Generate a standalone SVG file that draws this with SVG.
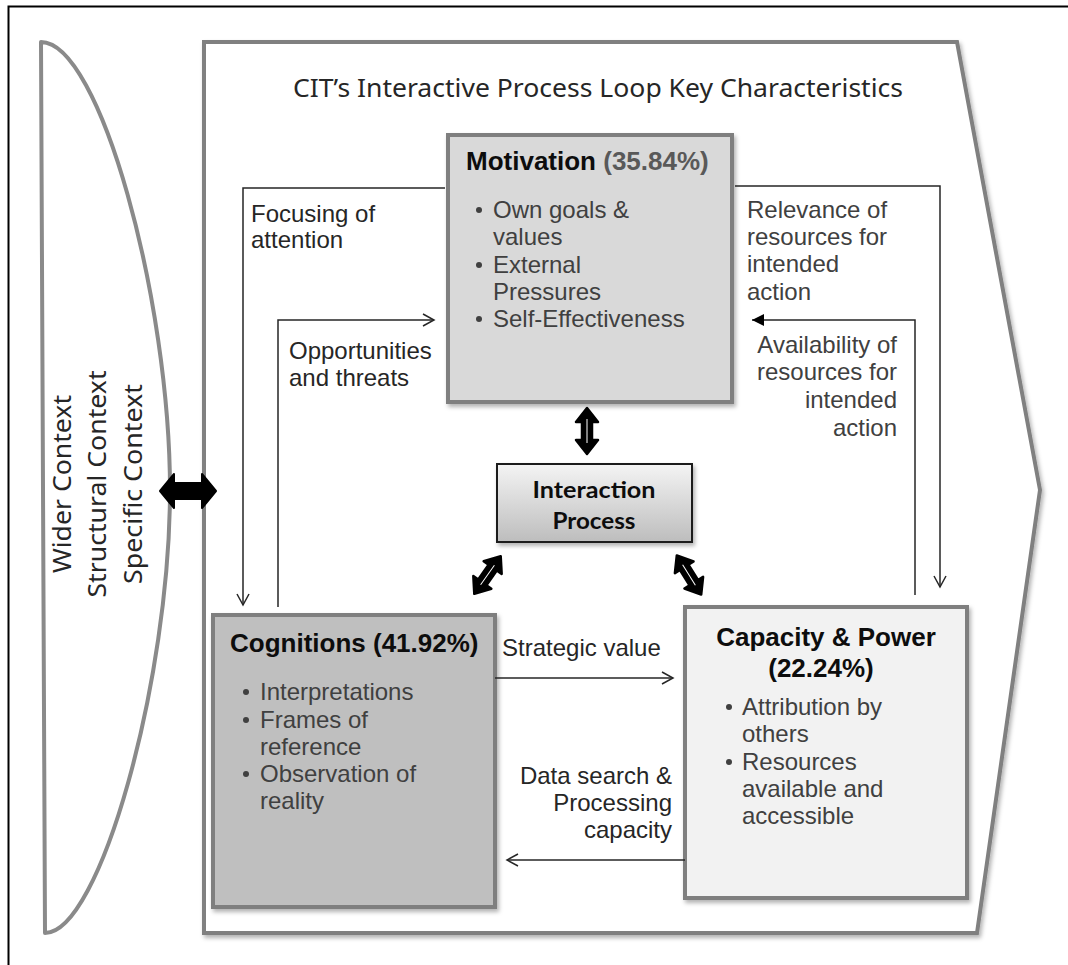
<svg xmlns="http://www.w3.org/2000/svg" width="1068" height="965" viewBox="0 0 1068 965">
<style>
.lbl{font-family:"Liberation Sans",Arial,sans-serif;font-size:24px;fill:#262626}
.lblg{font-family:"Liberation Sans",Arial,sans-serif;font-size:24px;fill:#404040}
.body{font-family:"Liberation Sans",Arial,sans-serif;font-size:24px;fill:#404040}
.ttl{font-family:"Liberation Sans",Arial,sans-serif;font-size:26px;font-weight:bold;fill:#0d0d0d}
.seg{font-family:"Noto Sans","Open Sans",sans-serif;font-size:26px;fill:#262626}
.box{stroke:#7f7f7f;stroke-width:4}
.conn{fill:none;stroke:#262626;stroke-width:1.5}
.ip{font-family:Lato,sans-serif;font-weight:bold;font-size:22px;fill:#0d0d0d}
</style>
<defs>
<marker id="open" markerUnits="userSpaceOnUse" markerWidth="16" markerHeight="16" refX="12" refY="7" orient="auto">
<path d="M1,1 L12,7 L1,13" fill="none" stroke="#262626" stroke-width="1.5"/>
</marker>
<marker id="fill" markerUnits="userSpaceOnUse" markerWidth="16" markerHeight="16" refX="12" refY="6" orient="auto">
<path d="M0,0 L12,6 L0,12 z" fill="#000"/>
</marker>
<linearGradient id="ipg" x1="0" y1="0" x2="0" y2="1">
<stop offset="0" stop-color="#f4f4f4"/>
<stop offset="1" stop-color="#bdbdbd"/>
</linearGradient>
<filter id="sh" x="-5%" y="-5%" width="115%" height="115%">
<feDropShadow dx="2" dy="3" stdDeviation="2" flood-color="#000" flood-opacity="0.3"/>
</filter>
<g id="dbl">
<path d="M0,-23 L11,-9 L5,-9 L5,9 L11,9 L0,23 L-11,9 L-5,9 L-5,-9 L-11,-9 Z" fill="#000" stroke="#000" stroke-width="2.5" stroke-linejoin="round"/>
<path d="M0,-12 L0,12" stroke="#fff" stroke-width="1"/>
</g>
</defs>
<rect width="1068" height="965" fill="#fff"/>
<path d="M8.5,980 V6.5 H1080" fill="none" stroke="#000" stroke-width="2"/>

<g id="context">
<path d="M41,42 C100,42 170,300 170,490 C170,680 100,933 45,933 Z" fill="#fff" stroke="#8a8a8a" stroke-width="4" stroke-linejoin="round"/>
<text class="seg" transform="translate(71,484) rotate(-90)" text-anchor="middle" textLength="178" lengthAdjust="spacingAndGlyphs">Wider Context</text>
<text class="seg" transform="translate(106,484) rotate(-90)" text-anchor="middle" textLength="227" lengthAdjust="spacingAndGlyphs">Structural Context</text>
<text class="seg" transform="translate(142,484) rotate(-90)" text-anchor="middle" textLength="200" lengthAdjust="spacingAndGlyphs">Specific Context</text>
</g>

<g id="frame">
<path d="M204,42 H957 L1040,490 L977,933 H204 Z" fill="#fff" stroke="#808080" stroke-width="4" stroke-linejoin="miter" filter="url(#sh)"/>
<text class="seg" x="293" y="97" textLength="610" lengthAdjust="spacingAndGlyphs">CIT’s Interactive Process Loop Key Characteristics</text>
</g>

<g id="context-arrow">
<path d="M160,491 L174,474 L174,483 L202,483 L202,474 L216,491 L202,508 L202,499 L174,499 L174,508 Z" fill="#000" stroke="#000" stroke-width="2" stroke-linejoin="round"/>
</g>

<g id="motivation">
<rect class="box" x="448" y="135" width="284" height="267" fill="#d9d9d9" filter="url(#sh)"/>
<text class="ttl" x="466" y="170">Motivation <tspan fill="#595959">(35.84%)</tspan></text>
<circle cx="479" cy="210" r="3" fill="#404040"/>
<text class="body" x="493" y="218">Own goals &amp;</text>
<text class="body" x="493" y="245">values</text>
<circle cx="479" cy="265" r="3" fill="#404040"/>
<text class="body" x="493" y="273">External</text>
<text class="body" x="493" y="300">Pressures</text>
<circle cx="479" cy="319" r="3" fill="#404040"/>
<text class="body" x="493" y="327">Self-Effectiveness</text>
</g>

<g id="interaction">
<rect x="497" y="464" width="195" height="78" fill="url(#ipg)" stroke="#1a1a1a" stroke-width="2" filter="url(#sh)"/>
<text class="ip" x="594" y="498" text-anchor="middle" textLength="123" lengthAdjust="spacingAndGlyphs">Interaction</text>
<text class="ip" x="594" y="529" text-anchor="middle" textLength="83" lengthAdjust="spacingAndGlyphs">Process</text>
</g>

<g id="cognitions">
<rect class="box" x="213" y="615" width="282" height="292" fill="#bfbfbf" filter="url(#sh)"/>
<text class="ttl" x="230" y="652">Cognitions (41.92%)</text>
<circle cx="246" cy="692" r="3" fill="#404040"/>
<text class="body" x="260" y="700">Interpretations</text>
<circle cx="246" cy="720" r="3" fill="#404040"/>
<text class="body" x="260" y="728">Frames of</text>
<text class="body" x="260" y="755">reference</text>
<circle cx="246" cy="774" r="3" fill="#404040"/>
<text class="body" x="260" y="782">Observation of</text>
<text class="body" x="260" y="809">reality</text>
</g>

<g id="capacity">
<rect class="box" x="685" y="607" width="282" height="291" fill="#f2f2f2" filter="url(#sh)"/>
<text class="ttl" x="826" y="646" text-anchor="middle" fill="#262626">Capacity &amp; Power</text>
<text class="ttl" x="821" y="677" text-anchor="middle" fill="#262626">(22.24%)</text>
<circle cx="729" cy="707" r="3" fill="#404040"/>
<text class="body" x="742" y="715">Attribution by</text>
<text class="body" x="742" y="742">others</text>
<circle cx="729" cy="762" r="3" fill="#404040"/>
<text class="body" x="742" y="770">Resources</text>
<text class="body" x="742" y="797">available and</text>
<text class="body" x="742" y="824">accessible</text>
</g>

<g id="connectors">
<path class="conn" d="M445,188 H243 V605" marker-end="url(#open)"/>
<path class="conn" d="M278,607 V320 H434" marker-end="url(#open)"/>
<path class="conn" d="M735,186 H940 V587" marker-end="url(#open)" stroke="#404040"/>
<path class="conn" d="M915,595 V320 H752" marker-end="url(#fill)"/>
<path class="conn" d="M495,678 H673" marker-end="url(#open)"/>
<path class="conn" d="M685,860 H507" marker-end="url(#open)"/>
<use href="#dbl" transform="translate(587,431)"/>
<use href="#dbl" transform="translate(487.5,575) rotate(35)"/>
<use href="#dbl" transform="translate(689,575) rotate(-32)"/>
</g>

<g id="labels">
<text class="lbl" x="251" y="222">Focusing of</text>
<text class="lbl" x="251" y="248">attention</text>
<text class="lbl" x="289" y="359">Opportunities</text>
<text class="lbl" x="289" y="386">and threats</text>
<text class="lblg" x="747" y="218">Relevance of</text>
<text class="lblg" x="747" y="245">resources for</text>
<text class="lblg" x="747" y="272">intended</text>
<text class="lblg" x="747" y="300">action</text>
<text class="lblg" x="897" y="353" text-anchor="end">Availability of</text>
<text class="lblg" x="897" y="380" text-anchor="end">resources for</text>
<text class="lblg" x="897" y="408" text-anchor="end">intended</text>
<text class="lblg" x="897" y="436" text-anchor="end">action</text>
<text class="lbl" x="502" y="656">Strategic value</text>
<text class="lbl" x="672" y="784" text-anchor="end">Data search &amp;</text>
<text class="lbl" x="672" y="811" text-anchor="end">Processing</text>
<text class="lbl" x="672" y="838" text-anchor="end">capacity</text>
</g>
</svg>
